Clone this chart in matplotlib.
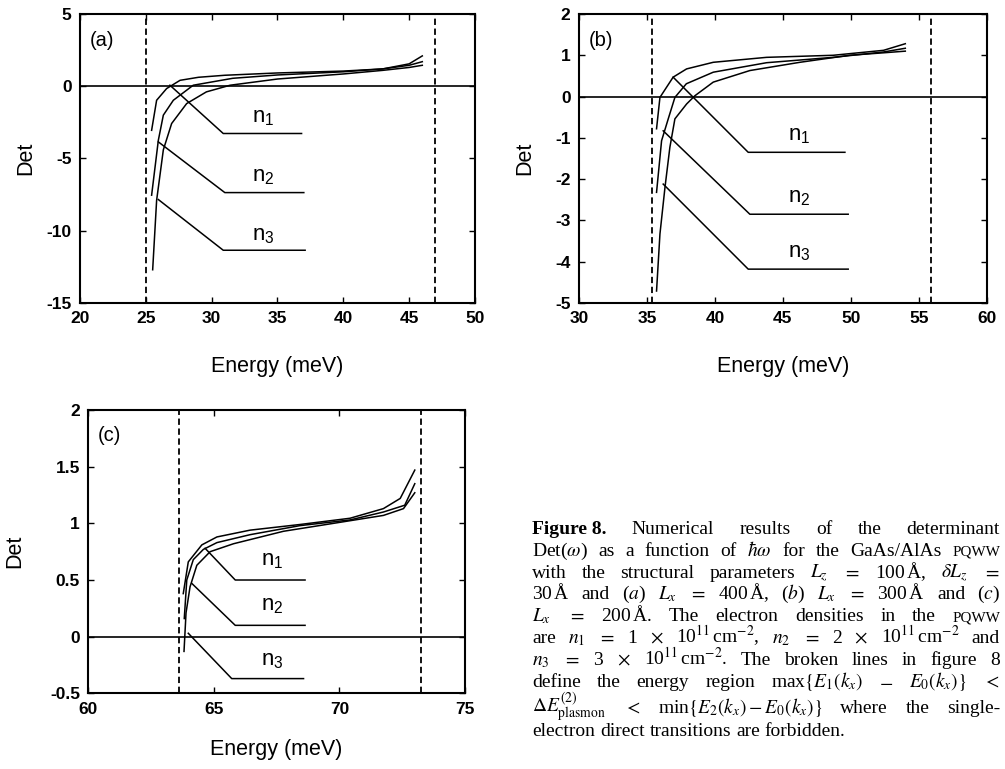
import matplotlib
matplotlib.use('Agg')
import matplotlib.pyplot as plt
from matplotlib.ticker import FuncFormatter

plt.rcParams['font.family'] = ['Liberation Sans', 'DejaVu Sans']
plt.rcParams['mathtext.fontset'] = 'custom'
plt.rcParams['mathtext.rm'] = 'Liberation Sans'
plt.rcParams['mathtext.it'] = 'Liberation Sans:italic'
plt.rcParams['mathtext.bf'] = 'Liberation Sans:bold'

# ---- panel (a): Lx = 400 A ----
a_e1 = [25.44, 25.82, 26.58, 27.6, 29.0, 31.0, 35.0, 40.0, 43.0, 45.0, 46.0]
a_d1 = [-3.05, -0.97, -0.16, 0.41, 0.62, 0.76, 0.92, 1.05, 1.2, 1.55, 2.1]
a_e2 = [25.44, 25.95, 26.33, 27.09, 28.6, 31.6, 35.0, 40.0, 43.0, 45.0, 46.0]
a_d2 = [-7.54, -3.74, -2.0, -0.97, 0.07, 0.55, 0.78, 1.0, 1.2, 1.45, 1.7]
a_e3 = [25.52, 25.82, 26.33, 26.96, 28.1, 29.6, 31.4, 35.0, 40.0, 43.0, 45.0, 46.0]
a_d3 = [-12.7, -7.9, -4.4, -2.58, -1.2, -0.39, 0.07, 0.5, 0.85, 1.1, 1.3, 1.45]
a_bounds = [25.05, 46.95]
a_ptr_x = [[26.83, 30.88, 36.83], [25.95, 31.0, 37.0], [25.95, 30.88, 37.1]]
a_ptr_y = [[0.07, -3.27, -3.27], [-3.85, -7.36, -7.36], [-7.84, -11.35, -11.35]]
a_lab = [(33.08, -2.47), (33.08, -6.62), (33.08, -10.66)]

# ---- panel (b): Lx = 300 A ----
b_e1 = [35.71, 35.96, 36.93, 37.92, 39.88, 43.8, 48.7, 52.4, 54.0]
b_d1 = [-0.78, -0.02, 0.47, 0.67, 0.83, 0.95, 1.0, 1.12, 1.28]
b_e2 = [35.71, 36.08, 36.57, 37.06, 37.9, 39.88, 43.8, 48.7, 52.4, 54.0]
b_d2 = [-2.32, -1.07, -0.54, -0.02, 0.31, 0.59, 0.82, 0.95, 1.08, 1.17]
b_e3 = [35.71, 35.96, 36.33, 36.69, 37.06, 37.92, 38.53, 39.88, 42.57, 46.25, 49.9, 52.4, 54.0]
b_d3 = [-4.71, -3.33, -2.2, -1.23, -0.54, -0.18, 0.02, 0.35, 0.63, 0.83, 1.0, 1.06, 1.1]
b_bounds = [35.4, 55.9]
b_ptr_x = [[36.93, 42.45, 49.56], [36.2, 42.57, 49.8], [36.2, 42.45, 49.8]]
b_ptr_y = [[0.47, -1.35, -1.35], [-0.83, -2.85, -2.85], [-2.12, -4.18, -4.18]]
b_lab = [(45.39, -1.07), (45.39, -2.56), (45.39, -3.9)]

# ---- panel (c): Lx = 200 A ----
c_e1 = [63.78, 63.98, 64.52, 65.12, 66.44, 68.43, 70.42, 71.75, 72.42, 73.0]
c_d1 = [0.38, 0.66, 0.81, 0.88, 0.94, 0.99, 1.045, 1.13, 1.22, 1.47]
c_e2 = [63.82, 63.92, 64.18, 64.58, 65.12, 66.44, 68.43, 70.42, 71.75, 72.6, 73.0]
c_d2 = [0.16, 0.5, 0.68, 0.77, 0.83, 0.9, 0.98, 1.03, 1.1, 1.16, 1.35]
c_e3 = [63.81, 63.89, 64.05, 64.32, 64.85, 65.78, 67.77, 69.76, 71.75, 72.55, 73.0]
c_d3 = [-0.13, 0.21, 0.44, 0.63, 0.75, 0.82, 0.93, 1.0, 1.07, 1.13, 1.27]
c_bounds = [63.6, 73.24]
c_ptr_x = [[64.65, 65.85, 68.63], [64.12, 65.85, 68.63], [63.98, 65.71, 68.57]]
c_ptr_y = [[0.78, 0.5, 0.5], [0.47, 0.1, 0.1], [0.03, -0.37, -0.37]]
c_lab = [(66.87, 0.63), (66.87, 0.236), (66.87, -0.25)]

names = ['n$_1$', 'n$_2$', 'n$_3$']

fig = plt.figure(figsize=(10.05, 7.69), dpi=100)
ax_a = fig.add_axes([0.0796, 0.606, 0.393, 0.3758])
ax_b = fig.add_axes([0.576, 0.606, 0.406, 0.3758])
ax_c = fig.add_axes([0.0879, 0.0984, 0.3748, 0.3684])


def draw_panel(ax, curves, bounds, ptr_x, ptr_y, labs, xlim, ylim, xticks, yticks,
               tag, xlab_y, ylab_x):
    for ex, dy in curves:
        ax.plot(ex, dy, color='black', lw=1.1)
    ax.axhline(0, color='black', lw=1.2)
    for b in bounds:
        ax.axvline(b, color='black', lw=1.3, ls=(0, (3.5, 2)))
    for px, py, (lx, ly), nm in zip(ptr_x, ptr_y, labs, names):
        ax.plot(px, py, color='black', lw=1.1)
        ax.text(lx, ly, nm, fontsize=16, ha='left', va='baseline')
    ax.set_xlim(*xlim)
    ax.set_ylim(*ylim)
    ax.set_xticks(xticks)
    ax.set_yticks(yticks)
    ax.xaxis.set_major_formatter(FuncFormatter(lambda v, p: '%g' % v))
    ax.yaxis.set_major_formatter(FuncFormatter(lambda v, p: '%g' % v))
    ax.tick_params(direction='in', length=4, width=1, top=True, right=True,
                   labelsize=12.5, pad=6)
    for lbl in ax.get_xticklabels() + ax.get_yticklabels():
        lbl.set_fontweight('bold')
    for s in ax.spines.values():
        s.set_linewidth(1.5)
    ax.set_xlabel('Energy (meV)', fontsize=15.5)
    ax.set_ylabel('Det', fontsize=15.5)
    ax.xaxis.set_label_coords(0.5, xlab_y)
    ax.yaxis.set_label_coords(ylab_x, 0.5)
    ax.text(0.025, 0.91, tag, transform=ax.transAxes, fontsize=14.5,
            ha='left', va='center')


draw_panel(ax_a, [(a_e1, a_d1), (a_e2, a_d2), (a_e3, a_d3)], a_bounds, a_ptr_x, a_ptr_y,
           a_lab, (20, 50), (-15, 5), range(20, 51, 5), range(-15, 6, 5), '(a)', -0.183, -0.111)
draw_panel(ax_b, [(b_e1, b_d1), (b_e2, b_d2), (b_e3, b_d3)], b_bounds, b_ptr_x, b_ptr_y,
           b_lab, (30, 60), (-5, 2), range(30, 61, 5), range(-5, 3), '(b)', -0.183, -0.108)
draw_panel(ax_c, [(c_e1, c_d1), (c_e2, c_d2), (c_e3, c_d3)], c_bounds, c_ptr_x, c_ptr_y,
           c_lab, (60, 75), (-0.5, 2), range(60, 76, 5), [-0.5, 0, 0.5, 1, 1.5, 2], '(c)',
           -0.162, -0.168)

# ---- caption, set word by word and justified ----
SC = 'sc'
cap_lines = [
    [('Figure 8.', 'bold'), 'Numerical', 'results', 'of', 'the', 'determinant'],
    [r'Det($\omega$)', 'as', 'a', 'function', 'of', r'$\hbar\omega$', 'for', 'the',
     'GaAs/AlAs', ('PQWW', SC)],
    ['with', 'the', 'structural', 'parameters', r'$L_z$', r'$=$', r'100$\,$Å,',
     r'$\delta L_z$', r'$=$'],
    [r'30$\,$Å', 'and', r'($a$)', r'$L_x$', r'$=$', r'400$\,$Å,', r'($b$)', r'$L_x$', r'$=$',
     r'300$\,$Å', 'and', r'($c$)'],
    [r'$L_x$', r'$=$', r'200$\,$Å.', 'The', 'electron', 'densities', 'in', 'the', ('PQWW', SC)],
    ['are', r'$n_1$', r'$=$', '1', r'$\times$', r'10$^{11}\,$cm$^{-2}$,', r'$n_2$', r'$=$',
     '2', r'$\times$', r'10$^{11}\,$cm$^{-2}$', 'and'],
    [r'$n_3$', r'$=$', '3', r'$\times$', r'10$^{11}\,$cm$^{-2}$.', 'The', 'broken', 'lines',
     'in', 'figure', '8'],
    ['define', 'the', 'energy', 'region', r'max$\{E_1(k_x)$', r'$-$', r'$E_0(k_x)\}$', r'$<$'],
    [r'$\Delta E^{(2)}_{\mathrm{plasmon}}$', r'$<$', r'min$\{E_2(k_x)-E_0(k_x)\}$', 'where',
     'the', 'single-'],
    ['electron', 'direct', 'transitions', 'are', 'forbidden.'],
]
cap_base = [534, 556, 578, 599, 621, 643, 665, 687, 713, 736]
cap_left, cap_right = 532, 1000
cap_size = 14

W, H = 1005, 769
fig.canvas.draw()
renderer = fig.canvas.get_renderer()
for i, (line, yb) in enumerate(zip(cap_lines, cap_base)):
    items = []
    for tok in line:
        kw = dict(fontsize=cap_size, family=['Liberation Serif', 'DejaVu Serif'],
                  math_fontfamily='stix', va='baseline', ha='left')
        if isinstance(tok, tuple):
            tok, style = tok
            if style == 'bold':
                kw['fontweight'] = 'bold'
            else:
                kw['fontsize'] = cap_size * 0.78
        t = fig.text(0, 1 - yb / H, tok, **kw)
        w = t.get_window_extent(renderer).width
        items.append((t, w))
    total = sum(w for _, w in items)
    if i == len(cap_lines) - 1:
        gap = 5
    else:
        gap = (cap_right - cap_left - total) / (len(items) - 1)
    x = cap_left
    for t, w in items:
        t.set_x(x / W)
        x += w + gap

fig.savefig('out.png', dpi=100)
